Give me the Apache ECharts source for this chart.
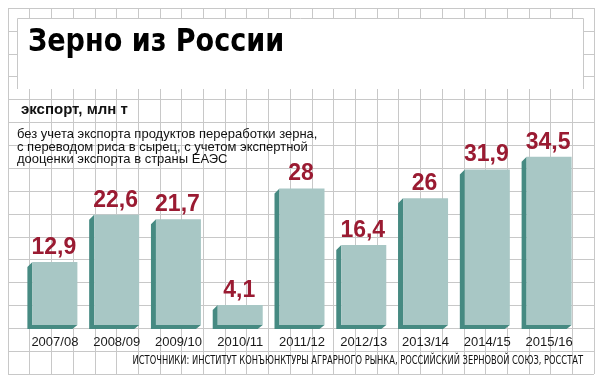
<!DOCTYPE html>
<html><head><meta charset="utf-8">
<script src="https://cdn.jsdelivr.net/npm/echarts@6/dist/echarts.min.js"></script>
<style>html,body{margin:0;padding:0;background:#fff}#c{width:604px;height:384px}</style>
</head><body><div id="c"></div>
<script>
const categories = ['2007/08','2008/09','2009/10','2010/11','2011/12','2012/13','2013/14','2014/15','2015/16'];
const exportValues = [12.9, 22.6, 21.7, 4.1, 28, 16.4, 26, 31.9, 34.5];
const titleText = 'Зерно из России';
const unitText = 'экспорт, млн т';
const noteLines = ['без учета экспорта продуктов переработки зерна,', 'с переводом риса в сырец, с учетом экспертной', 'дооценки экспорта в страны ЕАЭС'];
const sourceText = 'ИСТОЧНИКИ: ИНСТИТУТ КОНЪЮНКТУРЫ АГРАРНОГО РЫНКА, РОССИЙСКИЙ ЗЕРНОВОЙ СОЮЗ, РОССТАТ';

const FACE = '#a8c7c5', SIDE = '#468a82', RED = '#9a1b32', GRID = '#c8c8c8';
const NARROW = '"DejaVu Sans Condensed", "Liberation Sans", sans-serif';

const chart = echarts.init(document.getElementById('c'), null, {renderer: 'canvas'});
const noteGraphics = noteLines.map((t, i) => ({
  type: 'text', x: 17, y: 128 + i * 12.6, z: 20,
  style: {text: t, verticalAlign: 'top', font: '13px "Liberation Sans", sans-serif', fill: '#111'}
}));
chart.setOption({
  animation: false,
  backgroundColor: '#fff',
  grid: [
    {left: 8, top: 8, width: 586, height: 366},
    {left: 24, right: 24, top: 130, bottom: 59}
  ],
  xAxis: [
    {gridIndex: 0, type: 'value', min: 0, max: 27, interval: 1, axisLine: {show: false}, axisTick: {show: false}, axisLabel: {show: false}, splitLine: {show: true, lineStyle: {color: GRID, width: 1}}},
    {gridIndex: 1, type: 'category', data: categories, axisLine: {show: false}, axisTick: {show: false},
     axisLabel: {interval: 0, margin: 11, fontSize: 13, fontFamily: '"Liberation Sans", sans-serif', color: '#1a1a1a'}}
  ],
  yAxis: [
    {gridIndex: 0, type: 'value', min: 0, max: 16, interval: 1, axisLine: {show: false}, axisTick: {show: false}, axisLabel: {show: false}, splitLine: {show: true, lineStyle: {color: GRID, width: 1}}},
    {gridIndex: 1, type: 'value', min: 0, max: 40, show: false, splitLine: {show: false}}
  ],
  graphic: [
    {type: 'rect', z: 10, shape: {x: 17, y: 18, width: 566, height: 71}, style: {fill: '#fff'}},
    {type: 'polyline', z: 11, shape: {points: [[17.5, 89], [17.5, 18.5], [583.5, 18.5], [583.5, 89]]}, style: {stroke: GRID, lineWidth: 1, fill: null}},
    {type: 'text', x: 28, y: 27, scaleX: 0.94, z: 20, style: {text: titleText, verticalAlign: 'top', font: 'bold 32px ' + NARROW, fill: '#000'}},
    {type: 'text', x: 21, y: 102, z: 20, style: {text: unitText, verticalAlign: 'top', font: 'bold 15px "Liberation Sans", sans-serif', fill: '#111'}},
    ...noteGraphics,
    {type: 'text', x: 583, y: 355, scaleX: 0.77, z: 20, style: {text: sourceText, align: 'right', verticalAlign: 'top', font: '12px ' + NARROW, fill: '#111'}}
  ],
  series: [{
    type: 'custom', xAxisIndex: 1, yAxisIndex: 1, z: 5,
    data: exportValues.map((v, i) => [i, v]),
    encode: {x: 0, y: 1},
    renderItem: function (params, api) {
      const v = api.value(1);
      const top = api.coord([api.value(0), v]);
      const base = api.coord([api.value(0), 0]);
      const bw = 45, d = 5;
      const x0 = top[0] - bw / 2, x1 = top[0] + bw / 2;
      return {type: 'group', children: [
        {type: 'polygon', shape: {points: [[x0, top[1]], [x0 - d, top[1] + d], [x0 - d, base[1] + 4], [x1 - d, base[1] + 4], [x1, base[1]], [x0, base[1]]]}, style: {fill: SIDE}},
        {type: 'rect', shape: {x: x0, y: top[1], width: bw, height: base[1] - top[1]}, style: {fill: FACE}},
        {type: 'text', style: {text: String(v).replace('.', ','), x: top[0] - 1, y: top[1] - 3, align: 'center', verticalAlign: 'bottom', font: 'bold 23px "Liberation Sans", sans-serif', fill: RED}}
      ]};
    }
  }]
});
</script></body></html>
